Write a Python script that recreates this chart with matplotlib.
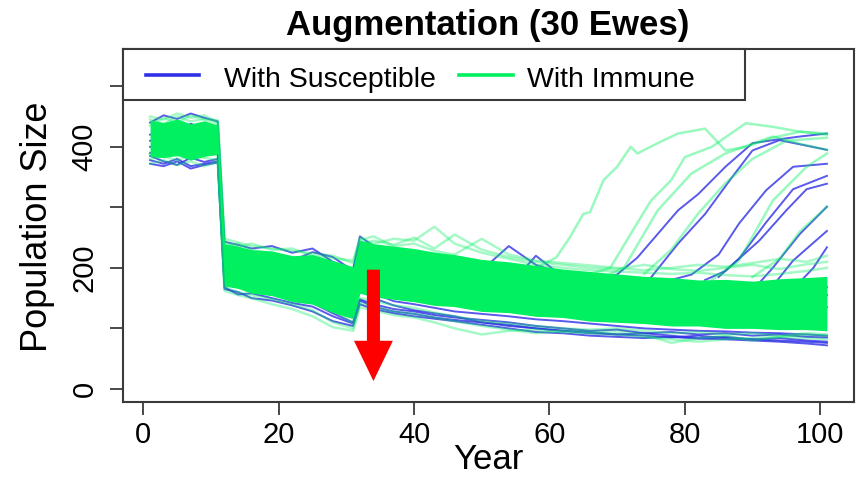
import matplotlib
matplotlib.use("Agg")
import matplotlib.pyplot as plt
from matplotlib.patches import Rectangle

plt.rcParams['font.family'] = ['Liberation Sans', 'DejaVu Sans']

# --- data (population size per simulated year) ---
years = [1, 3, 5, 7, 9, 11, 12, 14, 16, 19, 22, 25, 28, 31, 32, 34, 37, 40, 43, 46,
         50, 54, 58, 62, 66, 70, 74, 78, 82, 86, 90, 94, 98, 101]

# dense part of the green (immune) runs
core_hi = [444, 440, 446, 438, 443, 436, 240, 236, 230, 228, 220, 222, 212, 202,
           246, 240, 236, 232, 226, 222, 214, 210, 204, 198, 194, 190, 186, 184, 180, 181, 178, 182, 184, 186]
core_lo = [384, 382, 386, 378, 384, 388, 170, 166, 158, 154, 144, 140, 126, 116,
           158, 152, 148, 144, 138, 136, 128, 126, 120, 118, 112, 110, 108, 104, 104, 100, 100, 98, 98, 96]

# susceptible runs that stay in the band
blue_a = [378, 372, 380, 368, 372, 376, 165, 160, 150, 146, 138, 128, 112, 104,
          140, 132, 125, 120, 116, 112, 106, 100, 94, 92, 88, 86, 84, 86, 83, 82, 80, 78, 75, 72]
blue_b = [440, 452, 446, 455, 448, 442, 243, 238, 232, 236, 225, 232, 210, 198,
          252, 236, 230, 222, 210, 215, 205, 196, 190, 184, 180, 172, 168, 170, 165, 160, 162, 158, 160, 155]
blue_c = [385, 376, 370, 382, 375, 380, 175, 168, 162, 158, 150, 142, 125, 110,
          148, 140, 132, 128, 122, 118, 114, 110, 104, 100, 96, 98, 92, 94, 90, 92, 88, 90, 86, 85]
blue_d = [420, 430, 425, 438, 430, 425, 230, 226, 220, 218, 212, 226, 218, 195,
          240, 228, 220, 212, 206, 200, 196, 236, 205, 190, 185, 178, 175, 172, 170, 168, 172, 166, 170, 168]
blue_e = [400, 395, 405, 398, 402, 395, 200, 205, 196, 190, 182, 178, 170, 160,
          200, 195, 190, 185, 178, 172, 168, 170, 220, 185, 170, 160, 156, 150, 148, 145, 140, 142, 138, 135]
blue_f = [390, 385, 392, 386, 390, 388, 180, 172, 168, 162, 155, 150, 140, 130,
          165, 150, 138, 130, 125, 120, 110, 104, 100, 96, 92, 90, 88, 85, 88, 84, 82, 80, 78, 76]
blue_g = [410, 415, 408, 412, 406, 410, 190, 182, 176, 170, 165, 158, 150, 140,
          175, 158, 145, 140, 134, 128, 124, 120, 115, 112, 108, 104, 100, 98, 96, 95, 93, 92, 90, 88]
blue_h = [372, 368, 376, 364, 370, 374, 168, 156, 158, 150, 142, 136, 120, 108,
          146, 136, 128, 124, 118, 114, 110, 106, 100, 96, 94, 90, 92, 88, 84, 86, 82, 84, 80, 78]

# immune runs at the edges of the band
green_a = [450, 445, 455, 448, 452, 440, 248, 242, 236, 232, 228, 224, 220, 208,
           250, 240, 248, 245, 268, 240, 225, 215, 205, 200, 196, 194, 192, 190, 192, 188, 186, 190, 195, 200]
green_b = [372, 378, 370, 376, 368, 375, 162, 155, 150, 140, 132, 120, 102, 96,
           135, 130, 122, 118, 110, 100, 90, 96, 98, 94, 92, 90, 86, 82, 78, 82, 84, 86, 84, 82]
green_c = [435, 448, 440, 452, 445, 438, 236, 240, 230, 224, 218, 212, 205, 190,
           235, 245, 238, 250, 232, 255, 230, 218, 210, 205, 200, 198, 205, 198, 195, 200, 205, 198, 206, 210]
green_d = [380, 384, 378, 386, 382, 378, 168, 160, 155, 148, 140, 130, 110, 100,
           142, 136, 128, 124, 118, 112, 104, 98, 92, 96, 94, 95, 90, 76, 84, 88, 80, 86, 90, 88]
green_e = [445, 438, 450, 442, 446, 444, 244, 235, 240, 230, 232, 220, 216, 212,
           246, 252, 236, 240, 228, 222, 248, 222, 212, 208, 204, 200, 196, 200, 205, 202, 208, 215, 210, 220]
green_f = [388, 392, 384, 394, 388, 386, 176, 170, 166, 158, 150, 142, 132, 108,
           150, 146, 138, 134, 126, 120, 112, 108, 104, 100, 98, 100, 96, 92, 94, 90, 92, 88, 92, 90]

# runs that recover late in the century
g1_x = [58, 61, 63, 65, 66, 68, 70, 72, 73, 76, 79, 83, 86, 89, 93, 97, 101]
g1_y = [200, 217, 250, 289, 292, 345, 367, 400, 389, 406, 422, 430, 394, 400, 415, 425, 420]
g2_x = [66, 69, 72, 75, 78, 80, 84, 89, 93, 97, 101]
g2_y = [190, 200, 256, 311, 345, 383, 400, 439, 433, 425, 422]
g3_x = [68, 71, 76, 81, 86, 93, 97, 101]
g3_y = [185, 200, 295, 356, 389, 417, 405, 395]
g4_x = [84, 88, 93, 98, 101]
g4_y = [180, 212, 311, 367, 389]
g5_x = [90, 94, 97, 101]
g5_y = [185, 215, 260, 301]
g6_x = [74, 78, 82, 86, 90, 95, 101]
g6_y = [190, 230, 290, 340, 380, 410, 415]

b1_x = [66, 70, 73, 76, 79, 82, 86, 90, 93, 97, 101]
b1_y = [180, 189, 217, 256, 295, 322, 367, 406, 411, 417, 422]
b2_x = [72, 75, 79, 83, 87, 90, 94, 101]
b2_y = [175, 184, 240, 289, 350, 394, 411, 395]
b3_x = [78, 81, 85, 88, 92, 96, 101]
b3_y = [180, 189, 222, 273, 328, 367, 372]
b4_x = [83, 86, 91, 95, 98, 101]
b4_y = [180, 195, 245, 295, 330, 339]
b5_x = [91, 93, 97, 101]
b5_y = [175, 200, 256, 301]
b6_x = [93, 96, 101]
b6_y = [170, 212, 261]
b7_x = [96, 99, 101]
b7_y = [165, 200, 234]
b8_x = [85, 88, 92, 96, 101]
b8_y = [185, 215, 275, 330, 352]

arrow_year = 34
arrow_from = 197
arrow_to = 13

BLUE = '#2f2fe6'
GREEN = '#00f060'
DARK = '#3a3a3a'

fig = plt.figure(figsize=(8.62, 4.78), dpi=100)
ax = fig.add_axes([123/862, 1 - 402/478, 731/862, 353/478])

for ys in [blue_a, blue_b, blue_c, blue_d, blue_e, blue_f, blue_g, blue_h]:
    ax.plot(years, ys, color=BLUE, lw=1.4, alpha=0.8, zorder=2)
for xs, ys in [(b1_x, b1_y), (b2_x, b2_y), (b3_x, b3_y), (b4_x, b4_y),
               (b5_x, b5_y), (b6_x, b6_y), (b7_x, b7_y), (b8_x, b8_y)]:
    ax.plot(xs, ys, color=BLUE, lw=1.4, alpha=0.8, zorder=2)

ax.fill_between(years, core_lo, core_hi, color=GREEN, lw=0, zorder=3)
for ys in [green_a, green_b, green_c, green_d, green_e, green_f]:
    ax.plot(years, ys, color=GREEN, lw=1.8, alpha=0.35, zorder=3.5)
for xs, ys in [(g1_x, g1_y), (g2_x, g2_y), (g3_x, g3_y), (g4_x, g4_y),
               (g5_x, g5_y), (g6_x, g6_y)]:
    ax.plot(xs, ys, color=GREEN, lw=1.8, alpha=0.4, zorder=3.5)

ax.annotate('', xy=(arrow_year, arrow_to), xytext=(arrow_year, arrow_from),
            arrowprops=dict(arrowstyle='simple,head_length=29,head_width=28,tail_width=9.4',
                            mutation_scale=1, color='red', shrinkA=0, shrinkB=0, lw=0),
            zorder=4)

ax.set_xlim(-3, 105)
ax.set_ylim(-21.6, 561.6)
ax.set_xticks([0, 20, 40, 60, 80, 100])
ax.set_yticks([0, 100, 200, 300, 400, 500])
ax.set_yticklabels(['0', '', '200', '', '400', ''], rotation=90, va='center')
ax.tick_params(direction='out', length=9.5, width=1.3, color=DARK, labelsize=21)
ax.tick_params(axis='x', pad=4)
ax.tick_params(axis='y', pad=8)
for s in ax.spines.values():
    s.set_color(DARK)
    s.set_linewidth(1.5)

# legend box (drawn by hand to keep R's spacing)
ax.add_patch(Rectangle((0, 0.8555), 0.851, 0.1445, transform=ax.transAxes,
                       facecolor='white', edgecolor=DARK, lw=1.5, zorder=5, clip_on=False))
ax.plot([0.0315, 0.1045], [0.9263, 0.9263], transform=ax.transAxes, color=BLUE, lw=2.6, zorder=6)
ax.text(0.1375, 0.8924, 'With Susceptible', transform=ax.transAxes, fontsize=20.5, zorder=6)
ax.plot([0.4598, 0.5330], [0.9263, 0.9263], transform=ax.transAxes, color=GREEN, lw=2.6, zorder=6)
ax.text(0.5533, 0.8924, 'With Immune', transform=ax.transAxes, fontsize=20.5, zorder=6)

fig.text(488/862, 1 - 25/478, 'Augmentation (30 Ewes)', ha='center', va='center',
         fontsize=25, fontweight='bold')
fig.text(488/862, 1 - 469/478, 'Year', ha='center', va='baseline', fontsize=25)
fig.text(47/862, 1 - 227/478, 'Population Size', rotation=90, rotation_mode='anchor',
         ha='center', va='baseline', fontsize=26)

fig.savefig('out.png', dpi=100)
